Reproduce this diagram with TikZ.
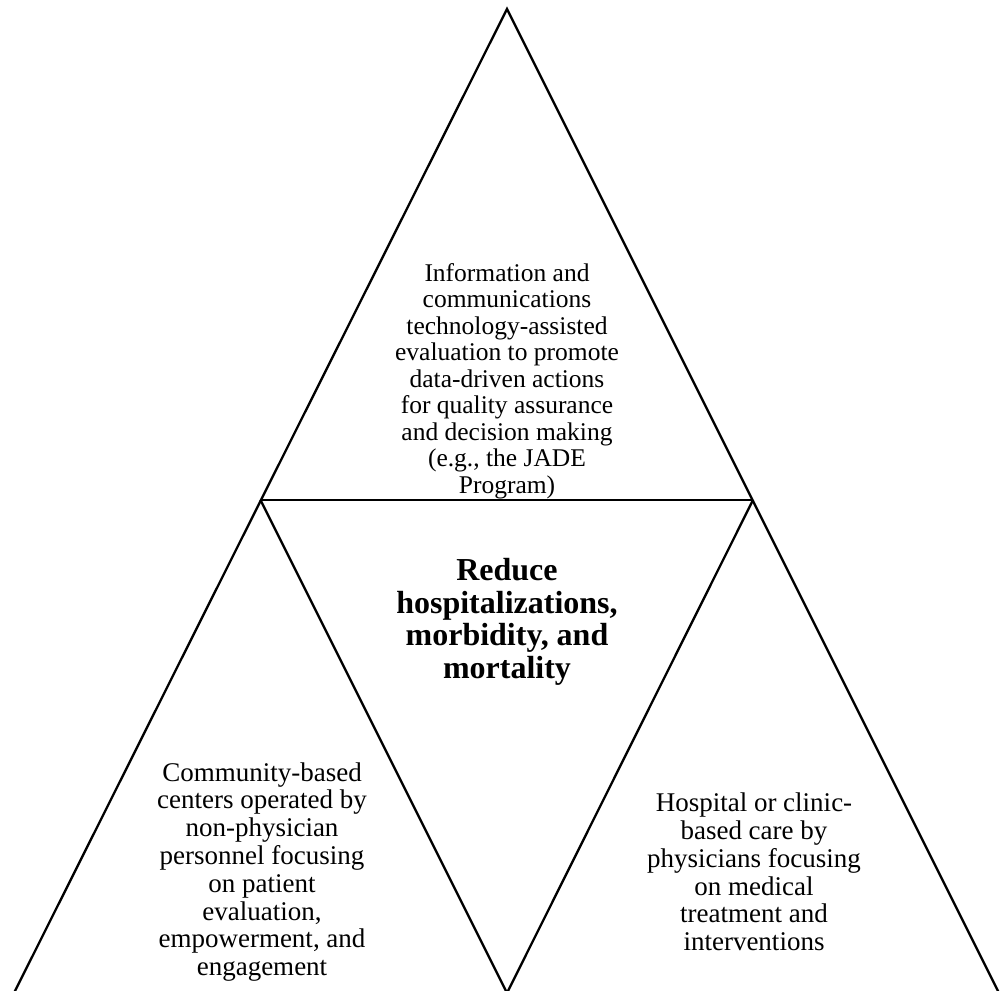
\documentclass[tikz,border=0pt]{standalone}
\usepackage{fontspec}
\setmainfont{Liberation Serif}
\begin{document}
\begin{tikzpicture}[x=1pt,y=1pt,
  edge/.style={line width=2.3pt, line join=miter},
  txttop/.style={align=center, inner sep=0pt, font=\fontsize{25.5}{26.5}\selectfont},
  txtbot/.style={align=center, inner sep=0pt, font=\fontsize{27}{27.8}\selectfont},
  bold/.style={align=center, inner sep=0pt, font=\fontsize{32}{32.5}\selectfont\bfseries}]
\useasboundingbox (0,0) rectangle (1005,991);
\coordinate (A) at (507,982);
\coordinate (BL) at (14,-2);
\coordinate (BR) at (999,-2);
\coordinate (ML) at (260.5,491);
\coordinate (MR) at (753,491);
\coordinate (MB) at (507,-2);
\draw[edge] (BL) -- (A) -- (BR);
\draw[edge] (ML) -- (MR);
\draw[edge] (ML) -- (MB) -- (MR);
\node[txttop] (top) at (507,610) {Information and\\communications\\technology-assisted\\evaluation to promote\\data-driven actions\\for quality assurance\\and decision making\\(e.g., the JADE\\Program)};
\node[bold] (mid) at (507,369) {Reduce\\hospitalizations,\\morbidity, and\\mortality};
\node[txtbot] (left) at (262,119) {Community-based\\centers operated by\\non-physician\\personnel focusing\\on patient\\evaluation,\\empowerment, and\\engagement};
\node[txtbot] (right) at (754,119) {Hospital or clinic-\\based care by\\physicians focusing\\on medical\\treatment and\\interventions};
\end{tikzpicture}
\end{document}
